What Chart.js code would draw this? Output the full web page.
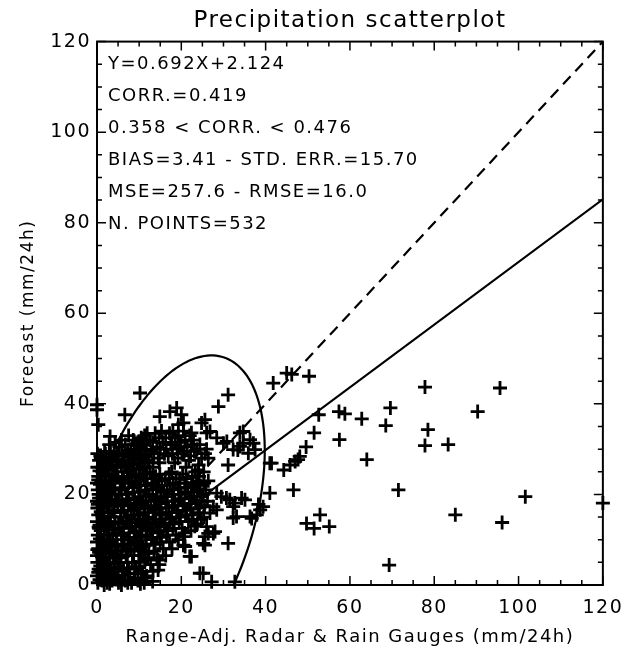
<!DOCTYPE html>
<html>
<head>
<meta charset="utf-8">
<script src="https://cdn.jsdelivr.net/npm/chart.js@4.4.0/dist/chart.umd.min.js"></script>
<style>
  html, body { margin: 0; padding: 0; background: #fff; }
  canvas { display: block; }
</style>
</head>
<body>
<canvas id="scatter" width="633" height="650"></canvas>
<script>
// observed (radar+gauges) vs forecast, mm/24h - dense part near the origin, one line per column
const obsCluster = [
  0.2, 0, 0.4, 0.1, 0, 0.3, 0, 0.2, 0.5, 0, 0.3, 0.1, 0, 0.4, 0.2, 0, 0.3, 0.1, 0.5,
  1.2, 0.8, 1.5, 1.0, 1.3, 0.9, 1.6, 1.1, 0.7, 1.4, 1.0, 1.3, 0.9,
  2.4, 2.0, 2.6, 2.2, 1.9, 2.5, 2.1, 2.7, 2.3, 1.8, 2.6, 2.2, 2.4, 2.0,
  3.6, 3.2, 3.9, 3.4, 3.7, 3.1, 3.8, 3.5, 3.3, 3.9, 3.6, 3.2,
  5.1, 4.8, 5.4, 5.0, 4.7, 5.3, 5.6, 4.9, 5.2, 5.5, 4.8, 5.1, 5.3,
  6.7, 6.3, 6.9, 6.5, 6.2, 6.8, 6.4, 7.0, 6.6, 6.3, 6.9, 6.5, 6.7,
  8.2, 7.8, 8.4, 8.0, 7.7, 8.3, 8.1, 7.9, 8.5, 8.2, 7.8, 8.4, 8.0, 8.6,
  9.7, 9.3, 9.9, 9.5, 9.2, 9.8, 9.4, 10.0, 9.6, 9.3, 9.9, 9.5, 9.7,
  11.2, 10.8, 11.4, 11.0, 10.7, 11.3, 11.1, 10.9, 11.5, 11.2, 10.8, 11.4, 11.0, 11.3,
  13.2, 12.7, 12.3, 12.9, 12.5, 12.2, 12.8, 12.4, 13.0, 12.6, 12.3, 12.9, 12.5,
  14.2, 13.8, 14.4, 14.0, 13.7, 14.3, 14.1, 13.9, 14.5, 14.2, 13.8,
  15.7, 15.3, 15.9, 15.5, 15.2, 15.8, 15.4, 16.0, 15.6, 15.3,
  17.2, 16.8, 17.4, 17.0, 16.7, 17.3, 17.1, 16.9, 17.5, 17.2,
  18.7, 18.3, 18.9, 18.5, 18.2, 18.8, 18.4, 19.0, 18.6,
  20.2, 19.8, 20.4, 20.0, 19.7, 20.3, 20.1, 19.9, 20.5,
  21.7, 21.3, 21.9, 21.5, 21.2, 21.8, 21.4, 22.0,
  23.2, 22.8, 23.4, 23.0, 22.7, 23.3, 23.1, 22.9,
  24.7, 24.3, 24.9, 24.5, 24.2, 24.8, 24.4,
  26.2, 25.8, 26.4, 26.0
];
const fcstCluster = [
  0.5, 2, 3.5, 5, 6.5, 8, 9.5, 11, 12.5, 14, 15.5, 17, 18.5, 20, 21, 22.5, 24, 26, 27.5,
  1, 3, 5.5, 7, 10, 12, 14.5, 16, 18, 20.5, 23, 25, 28,
  0.5, 2.5, 4, 6, 8.5, 11, 13, 15, 17.5, 19.5, 22, 24.5, 27, 29,
  1, 3.5, 6, 9, 11.5, 14, 16.5, 19, 21.5, 24, 26.5, 29.5,
  0.5, 2, 5, 7.5, 10, 12.5, 15, 17.5, 20, 22.5, 25, 27.5, 30.5,
  1, 3.5, 6.5, 9, 11.5, 14, 16.5, 19, 21.5, 24, 26, 28.5, 31,
  0.5, 2.5, 5, 8, 10.5, 13, 15.5, 18, 20.5, 23, 25.5, 27.5, 30, 32,
  1, 4, 6.5, 9.5, 12, 14.5, 17, 19.5, 22, 24.5, 27, 29.5, 31.5,
  0.5, 3, 5.5, 8.5, 11, 13.5, 16, 18.5, 21, 23.5, 26, 28.5, 31, 33,
  0.8, 4.5, 7, 10, 12.5, 15, 17.5, 20, 22.5, 25, 27, 29.5, 32,
  6, 9, 11.5, 14, 16.5, 19, 21.5, 24, 28, 30.5, 33.5,
  8, 10.5, 13, 15.5, 18, 20.5, 23, 29, 31.5, 34,
  9.5, 12, 14.5, 17, 19.5, 22, 24.5, 28.5, 31, 33.5,
  11, 13.5, 16, 18.5, 21, 23.5, 27, 30, 32.5,
  12.5, 15, 17.5, 20, 22.5, 24.5, 29, 31.5, 34,
  14, 16.5, 19, 21.5, 23.5, 27.5, 30.5, 33,
  13, 15.5, 18, 20.5, 22.5, 25, 29.5, 32,
  14.5, 17, 19.5, 22, 24, 28, 31,
  18.5, 21, 23, 30
];
// second pass over the dense part, in between the columns above
const obsFill = [
  0.6, 0.8, 0.5, 0.7, 0.6, 0.9, 0.5, 0.7, 0.6, 0.8,
  1.7, 1.9, 1.6, 1.8, 1.7, 2.0, 1.6, 1.8, 1.7, 1.9, 1.6, 1.8,
  3.0, 2.8, 3.1, 2.9, 3.0, 2.8, 3.2, 2.9, 3.0, 3.1, 2.8, 3.0, 2.9,
  4.3, 4.1, 4.4, 4.2, 4.5, 4.3, 4.1, 4.4, 4.2, 4.3, 4.5, 4.1, 4.3,
  5.8, 6.0, 5.7, 5.9, 5.8, 6.1, 5.7, 5.9, 5.8, 6.0, 5.7, 5.9, 5.8,
  7.3, 7.5, 7.2, 7.4, 7.3, 7.6, 7.2, 7.4, 7.3, 7.5, 7.2, 7.4, 7.3, 7.5,
  8.8, 9.0, 8.7, 8.9, 8.8, 9.1, 8.7, 8.9, 8.8, 9.0, 8.7, 8.9, 8.8,
  10.3, 10.5, 10.2, 10.4, 10.3, 10.6, 10.2, 10.4, 10.3, 10.5, 10.2, 10.4, 10.3, 10.5,
  11.8, 12.0, 11.7, 11.9, 11.8, 12.1, 11.7, 11.9, 11.8, 12.0, 11.7, 11.9,
  13.3, 13.5, 13.2, 13.4, 13.3, 13.6, 13.2, 13.4, 13.3, 13.5, 13.2,
  14.8, 15.0, 14.7, 14.9, 14.8, 15.1, 14.7, 14.9, 14.8, 15.0, 14.7,
  16.3, 16.5, 16.2, 16.4, 16.3, 16.6, 16.2, 16.4, 16.3,
  17.8, 18.0, 17.7, 17.9, 17.8, 18.1, 17.7, 17.9, 17.8, 18.0,
  19.3, 19.5, 19.2, 19.4, 19.3, 19.6, 19.2, 19.4, 19.3,
  20.8, 21.0, 20.7, 20.9, 20.8, 21.1, 20.7, 20.9,
  22.3, 22.5, 22.2, 22.4, 22.3, 22.6, 22.2, 22.4,
  23.8, 24.0, 23.7, 23.9, 23.8, 24.1, 23.7,
  25.3, 25.5, 25.2, 25.4, 25.3, 25.6
];
const fcstFill = [
  1.2, 4.2, 7.2, 10.2, 13.2, 16.2, 19.2, 22.2, 25.2, 28.5,
  0, 2, 4.5, 8, 11, 13.5, 17, 19, 21.5, 24, 26.5, 29.5,
  0.3, 2.5, 5, 7.5, 10, 12.8, 15.2, 18, 20.5, 23, 25.5, 28, 31,
  1.5, 4, 6.8, 8.5, 11, 13.5, 16, 18.5, 21, 23.5, 26, 28.5, 31.5,
  0, 3, 6, 8.5, 11, 13.5, 16, 18.5, 21, 23.5, 26.5, 29, 32,
  0.5, 2.5, 5, 7.5, 10, 12.5, 15, 17.5, 20, 22.5, 25, 27, 29.5, 33,
  1.5, 3.5, 6.5, 9, 11.5, 14, 16.5, 19, 21.5, 24, 26.5, 29, 31,
  0.3, 2.5, 5, 7.5, 10.5, 13, 15.5, 18, 20.5, 23, 25.5, 28, 30.5, 32.5,
  2, 6, 9, 12, 14.5, 17, 19.5, 22, 24.5, 27.5, 30, 33.5,
  3, 7.5, 10.5, 13.5, 16, 18.5, 21, 23.5, 26, 29, 31.5,
  4.5, 9.5, 12, 14.5, 17, 19.5, 22, 24.5, 27, 30, 32.5,
  6.5, 11, 13.5, 16, 18.5, 21, 23.5, 30, 32.5,
  8, 12.5, 15, 17.5, 20, 22.5, 25, 29, 31.5, 34,
  10, 14, 16.5, 19, 21.5, 23.5, 28, 30.5, 33,
  11.5, 15.5, 18, 20.5, 22.5, 26, 29.5, 32,
  12, 14.5, 17, 19.5, 21.5, 24, 28.5, 31,
  13.5, 16, 18.5, 21, 23, 26.5, 30,
  15, 17.5, 20, 22.5, 25, 29
];
// the solid core next to the y axis
const obsCore = [
  0.3, 0.1, 0.4, 0.2, 0.3, 0.1,
  1.4, 1.2, 1.5, 1.3, 1.4, 1.2,
  2.6, 2.4, 2.7, 2.5, 2.6, 2.4,
  3.8, 3.6, 3.9, 3.7, 3.8, 3.6,
  5.0, 4.8, 5.1, 4.9, 5.0, 4.8,
  6.2, 6.0, 6.3, 6.1, 6.2, 6.0,
  7.6, 7.4, 7.7, 7.5, 7.6, 7.4,
  9.0, 8.8, 9.1, 8.9, 9.0, 8.8,
  10.0, 9.8, 10.1, 9.9, 10.0, 9.8,
  11.5, 11.3, 11.6, 11.4, 11.5, 11.3
];
const fcstCore = [
  2.8, 7.8, 12.8, 17.8, 23.2, 29,
  1.8, 6.2, 9, 15.2, 19.8, 26,
  3.2, 9.5, 14, 18.8, 21, 26,
  2.2, 7.3, 12.2, 17.5, 22.8, 27.5,
  3.8, 8.8, 13.8, 18.8, 23.8, 28.8,
  2.2, 7.8, 12.8, 17.8, 22.8, 27.2,
  3.8, 8.8, 13.8, 18.8, 23.8, 28.2,
  2.5, 7.8, 12.8, 17.8, 22.8, 27.8,
  3.8, 8.8, 13.8, 18.8, 23.8, 29,
  1.5, 7, 12, 17, 22, 27
];
// scattered points away from the origin
const obsOuter = [
  50.3, 77.8, 95.6, 69.6, 57.4, 58.8, 52.6, 62.8, 90.3, 68.5,
  78.5, 51.5, 57.5, 77.8, 83.3, 49.6, 48.1, 64.0, 71.5, 101.6,
  120, 85.0, 96.1, 52.9, 49.7, 51.5, 55.1, 69.3, 41.8, 45.0,
  46.2, 41.0, 44.3, 45.8, 47.7, 46.6, 41.0, 39.4, 38.7, 38.3,
  36.7, 34.3, 32.3, 32.3, 31.1, 28.4, 28.0, 25.6, 25.6, 30.7,
  31.1, 25.2, 27.2, 32.7, 14.5, 22.4, 20.9, 20.5, 33.9, 37.1,
  35.9, 33.4, 30.0, 26.0, 25.6, 18.9, 17.3, 14.9, 20.0, 3.1,
  10.2, 6.6, 0.0, 0.0, 0.3, 31.1, 28.8, 20.5, 19.3, 24.8,
  22.4, 26.8, 28.4, 30.8, 34.7, 36.3, 33.9, 26.4, 24.0, 29.5,
  31.5, 35.1, 26.8, 33.1, 36.3, 37.9, 26.4, 25.2, 20.5, 22.0,
  14.5, 24.4, 41.4, 47.0, 28.4, 27.6, 32.7, 26.0, 27.6, 37.5,
  32.3, 34.7
];
const fcstOuter = [
  46.1, 43.7, 43.5, 39.1, 38.3, 37.8, 37.6, 36.7, 38.3, 35.2,
  34.3, 33.6, 32.1, 30.8, 31.0, 30.5, 28.4, 27.7, 21.0, 19.5,
  18.1, 15.5, 13.8, 15.5, 13.6, 12.5, 12.9, 4.4, 44.6, 46.8,
  46.5, 26.9, 25.4, 26.5, 27.7, 21.0, 20.3, 17.3, 16.6, 17.8,
  14.7, 19.2, 17.3, 14.8, 9.2, 16.6, 11.8, 10.7, 8.8, 19.2,
  26.5, 2.6, 0.7, 0.7, 3.3, 6.3, 8.5, 10.7, 33.6, 31.3,
  29.1, 29.8, 31.3, 33.6, 36.5, 39.1, 38.3, 37.2, 37.6, 32.8,
  42.4, 37.6, 39.8, 38.7, 35.4, 42.0, 39.4, 35.8, 35.4, 35.8,
  33.6, 33.9, 32.5, 31.7, 33.9, 32.1, 30.6, 28.0, 25.4, 19.5,
  18.8, 18.8, 15.9, 15.1, 15.1, 15.5, 11.4, 9.2, 8.8, 6.3,
  5.5, 2.6, 26.9, 27.3, 20.3, 17.3, 18.1, 12.9, 11.4, 29.9,
  29.9, 31.3
];

// regression line Y=0.692X+2.124 and the 1:1 line
const fitX = [0, 120];
const fitY = [2.124, 85.164];
const idealX = [0, 120];
const idealY = [0, 120];

// spread ellipse: centre and covariance terms (sxx, sxy, syy)
const ellipseCenter = [18.0, 14.6];
const ellipseCov = [475, 330, 1303];

const statsLines = [
  'Y=0.692X+2.124',
  'CORR.=0.419',
  '0.358 < CORR. < 0.476',
  'BIAS=3.41 - STD. ERR.=15.70',
  'MSE=257.6 - RMSE=16.0',
  'N. POINTS=532'
];
const axisTicks = [0, 20, 40, 60, 80, 100, 120];
const minorStep = 5;

const FONT = 'DejaVu Sans';
const toPts = (xs, ys) => xs.map((x, i) => ({ x: x, y: ys[i] }));

const obsAll = obsCluster.concat(obsFill, obsCore, obsOuter);
const fcstAll = fcstCluster.concat(fcstFill, fcstCore, fcstOuter);

const spacing = {
  id: 'spacing',
  beforeDraw(chart) {
    chart.ctx.letterSpacing = '1.5px';
  }
};

const ellipse = {
  id: 'ellipse',
  beforeDatasetsDraw(chart) {
    const { ctx, chartArea: a, scales: { x, y } } = chart;
    const [sxx, sxy, syy] = ellipseCov;
    const l11 = Math.sqrt(sxx);
    const l21 = sxy / l11;
    const l22 = Math.sqrt(syy - l21 * l21);
    ctx.save();
    ctx.beginPath();
    ctx.rect(a.left, a.top, a.right - a.left, a.bottom - a.top);
    ctx.clip();
    ctx.beginPath();
    for (let i = 0; i <= 180; i++) {
      const t = i / 180 * Math.PI * 2;
      const vx = ellipseCenter[0] + l11 * Math.cos(t);
      const vy = ellipseCenter[1] + l21 * Math.cos(t) + l22 * Math.sin(t);
      const px = x.getPixelForValue(vx), py = y.getPixelForValue(vy);
      if (i === 0) ctx.moveTo(px, py); else ctx.lineTo(px, py);
    }
    ctx.strokeStyle = '#000';
    ctx.lineWidth = 2.2;
    ctx.stroke();
    ctx.restore();
  }
};

const frame = {
  id: 'frame',
  afterDatasetsDraw(chart) {
    const { ctx, chartArea: a, scales: { x, y } } = chart;
    ctx.save();
    ctx.strokeStyle = '#000';
    ctx.lineWidth = 2;
    ctx.strokeRect(a.left, a.top, a.right - a.left, a.bottom - a.top);
    ctx.lineWidth = 1.5;
    ctx.beginPath();
    for (let v = x.min; v <= x.max; v += minorStep) {
      const len = axisTicks.includes(v) ? 9 : 5;
      const px = x.getPixelForValue(v);
      ctx.moveTo(px, a.bottom); ctx.lineTo(px, a.bottom - len);
      ctx.moveTo(px, a.top); ctx.lineTo(px, a.top + len);
    }
    for (let v = y.min; v <= y.max; v += minorStep) {
      const len = axisTicks.includes(v) ? 9 : 5;
      const py = y.getPixelForValue(v);
      ctx.moveTo(a.left, py); ctx.lineTo(a.left + len, py);
      ctx.moveTo(a.right, py); ctx.lineTo(a.right - len, py);
    }
    ctx.stroke();

    // statistics block, top left of the plot
    ctx.fillStyle = '#000';
    ctx.font = '18px "' + FONT + '"';
    ctx.letterSpacing = '1.5px';
    ctx.textBaseline = 'middle';
    ctx.textAlign = 'left';
    statsLines.forEach((s, i) => ctx.fillText(s, a.left + 11, a.top + 23 + i * 32));
    ctx.restore();
  }
};

Chart.defaults.font.family = FONT;
Chart.defaults.color = '#000';

new Chart(document.getElementById('scatter'), {
  type: 'scatter',
  data: {
    datasets: [
      {
        data: toPts(obsAll, fcstAll),
        pointStyle: 'cross',
        pointRadius: 7,
        borderColor: '#000',
        borderWidth: 2.8,
        clip: false
      },
      {
        data: toPts(fitX, fitY),
        showLine: true,
        pointRadius: 0,
        borderColor: '#000',
        borderWidth: 2.2
      },
      {
        data: toPts(idealX, idealY),
        showLine: true,
        pointRadius: 0,
        borderColor: '#000',
        borderWidth: 2.2,
        borderDash: [11, 7]
      }
    ]
  },
  options: {
    responsive: false,
    devicePixelRatio: 1,
    animation: false,
    layout: { padding: { left: 0, right: 30, top: 0, bottom: 0 } },
    plugins: {
      legend: { display: false },
      tooltip: { enabled: false },
      title: {
        display: true,
        fullSize: false,
        text: 'Precipitation scatterplot',
        color: '#000',
        font: { size: 23, weight: 'normal' },
        padding: { top: 7, bottom: 7 }
      }
    },
    scales: {
      x: {
        type: 'linear',
        min: 0,
        max: 120,
        afterFit(s) { s.height = 65; },
        afterBuildTicks(s) { s.ticks = axisTicks.map(v => ({ value: v })); },
        ticks: { font: { size: 19 }, padding: 12, maxRotation: 0 },
        grid: { display: false, drawTicks: false },
        border: { display: false },
        title: {
          display: true,
          text: 'Range-Adj. Radar & Rain Gauges (mm/24h)',
          font: { size: 18 },
          padding: { top: 0, bottom: 2 }
        }
      },
      y: {
        type: 'linear',
        min: 0,
        max: 120,
        afterFit(s) { s.width = 97; },
        afterBuildTicks(s) { s.ticks = axisTicks.map(v => ({ value: v })); },
        ticks: { font: { size: 19 }, padding: 6 },
        grid: { display: false, drawTicks: false },
        border: { display: false },
        title: {
          display: true,
          text: 'Forecast (mm/24h)',
          font: { size: 17 },
          padding: { top: 18, bottom: 0 }
        }
      }
    }
  },
  plugins: [spacing, ellipse, frame]
});
</script>
</body>
</html>
